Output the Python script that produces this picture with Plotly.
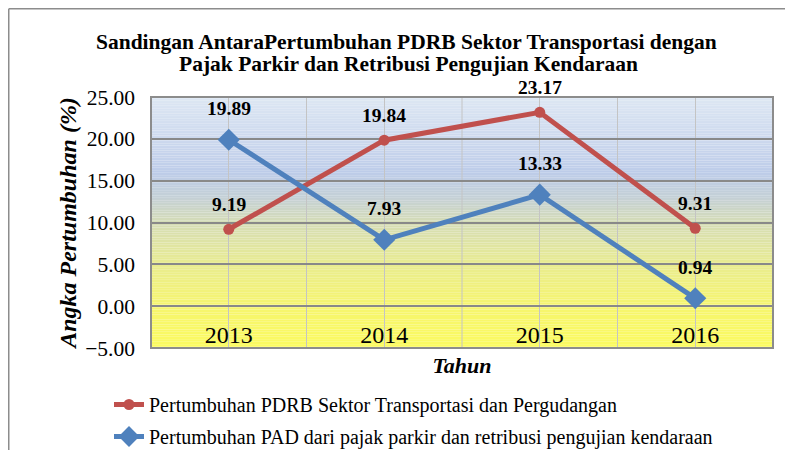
import plotly.graph_objects as go

years = ["2013", "2014", "2015", "2016"]
pdrb_growth = [9.19, 19.84, 23.17, 9.31]
pad_growth = [19.89, 7.93, 13.33, 0.94]

name_pdrb = "Pertumbuhan PDRB Sektor Transportasi dan Pergudangan"
name_pad = "Pertumbuhan PAD dari pajak parkir dan retribusi pengujian kendaraan"
title_lines = ["Sandingan AntaraPertumbuhan PDRB Sektor Transportasi dengan",
               "Pajak Parkir dan Retribusi Pengujian Kendaraan"]

RED = "#C0504D"
BLUE = "#4F81BD"
FONT = "Liberation Serif"
Y_MIN, Y_MAX = -5, 25

# figure coordinates (page body has an 8px margin)
W, H = 785, 442
ML, MR, MT, MB = 143, 20, 89, 102
PW, PH = W - ML - MR, H - MT - MB


def px_x(px):
    return (px - ML) / PW


def px_y(py):
    return (H - MB - py) / PH


fig = go.Figure()
fig.add_trace(go.Scatter(
    x=years, y=pdrb_growth, name=name_pdrb, mode="lines+markers",
    line=dict(color=RED, width=5), marker=dict(symbol="circle", size=11, color=RED),
    legendgroup="a", cliponaxis=False))
fig.add_trace(go.Scatter(
    x=years, y=pad_growth, name=name_pad, mode="lines+markers",
    line=dict(color=BLUE, width=5), marker=dict(symbol="diamond", size=17, color=BLUE),
    legendgroup="b", cliponaxis=False))

# data labels (category serial index on the category axis)
for vals, shift in ((pdrb_growth, 25), (pad_growth, 31)):
    for i, v in enumerate(vals):
        fig.add_annotation(x=i, y=v, xref="x", yref="y", text=f"{v:.2f}", showarrow=False,
                           yshift=shift,
                           font=dict(family=FONT, size=19.5, color="black", weight="bold"))

# title (two centred lines)
for txt, (cx, cy) in zip(title_lines, [(398, 34), (400, 56)]):
    fig.add_annotation(x=px_x(cx), y=px_y(cy), xref="paper", yref="paper", text=txt,
                       showarrow=False, xanchor="center", yanchor="middle",
                       font=dict(family=FONT, size=21.5, color="black", weight="bold"))

# gradient background (styling)
stops = [(-5, (251, 251, 96)), (0, (246, 245, 110)), (5, (233, 236, 144)),
         (10, (213, 220, 182)), (13, (196, 208, 214)), (16, (189, 204, 233)),
         (20, (205, 217, 238)), (25, (221, 231, 243))]


def col_at(v):
    for (a, ca), (b, cb) in zip(stops[:-1], stops[1:]):
        if a <= v <= b:
            t = (v - a) / (b - a)
            c = [round(ca[k] + (cb[k] - ca[k]) * t) for k in range(3)]
            return "rgb(%d,%d,%d)" % tuple(c)
    return "rgb(%d,%d,%d)" % stops[-1][1]


n = 150
step = (Y_MAX - Y_MIN) / n
for i in range(n):
    y0 = Y_MIN + i * step
    fig.add_shape(type="rect", xref="paper", yref="y", x0=0, x1=1, y0=y0, y1=y0 + step * 1.05,
                  fillcolor=col_at(y0 + step / 2), line=dict(width=0), layer="below")

# boundary vertical gridlines
for b in (0.5, 1.5, 2.5):
    fig.add_shape(type="line", xref="x", yref="paper", x0=b, x1=b, y0=0, y1=1,
                  line=dict(color="#c4c4c4", width=1), layer="between")

# plot border
fig.add_shape(type="rect", xref="paper", yref="paper", x0=0, x1=1, y0=0, y1=1,
              line=dict(color="#8c8c8c", width=2), layer="above")

# outer chart frame (cropped)
fx = px_x(0.75)
fy = px_y(0.75)
fig.add_shape(type="line", xref="paper", yref="paper", x0=fx, x1=fx, y0=-0.6, y1=fy,
              line=dict(color="#8c8c8c", width=1.5))
fig.add_shape(type="line", xref="paper", yref="paper", x0=fx, x1=1.3, y0=fy, y1=fy,
              line=dict(color="#8c8c8c", width=1.5))

fig.update_layout(
    width=W, height=H,
    margin=dict(l=ML, r=MR, t=MT, b=MB, autoexpand=False),
    paper_bgcolor="white", plot_bgcolor="rgba(0,0,0,0)",
    font=dict(family=FONT, color="black"),
    showlegend=True,
    legend=dict(x=px_x(101), xanchor="left", y=px_y(377), yanchor="top",
                orientation="v", font=dict(family=FONT, size=20, color="black"),
                bgcolor="rgba(0,0,0,0)", tracegroupgap=3, traceorder="grouped"),
)

# category axis crosses the value axis at 0 (labels sit just below the 0 line)
fig.update_xaxes(
    type="category", categoryorder="array", categoryarray=years, range=[-0.5, 3.5],
    anchor="free", position=(0 - Y_MIN) / (Y_MAX - Y_MIN),
    showgrid=True, gridcolor="#c4c4c4", gridwidth=1,
    ticks="", ticklabelstandoff=12, showline=False, zeroline=False,
    tickfont=dict(family=FONT, size=24, color="black"),
    title=dict(text="Tahun", standoff=10,
               font=dict(family=FONT, size=22, color="black", weight="bold", style="italic")),
    automargin=False,
)
fig.update_yaxes(
    range=[Y_MIN, Y_MAX], dtick=5, tick0=0, tickformat=".2f",
    showgrid=True, gridcolor="#898989", gridwidth=2, zeroline=False,
    ticks="", ticklabelstandoff=15, showline=False,
    tickfont=dict(family=FONT, size=21.5, color="black"),
    title=dict(text="Angka Pertumbuhan (%)", standoff=1,
               font=dict(family=FONT, size=24, color="black", weight="bold", style="italic")),
    automargin=False,
)

fig.write_html("out.html")
